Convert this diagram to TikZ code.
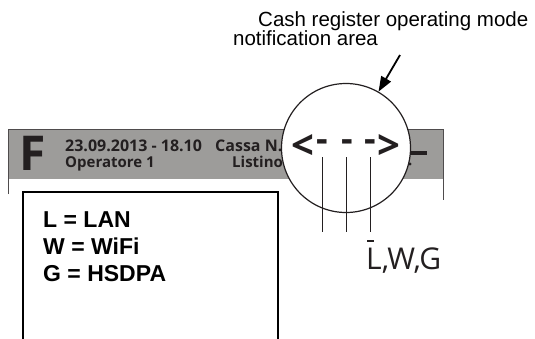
\documentclass[tikz,border=0pt]{standalone}
\usepackage{fontspec}
\setmainfont{Liberation Sans}
\newfontfamily\frut{Open Sans}
\usetikzlibrary{arrows.meta}
\definecolor{bargray}{RGB}{157,156,154}
\definecolor{ink}{RGB}{35,31,32}
\begin{document}
\begin{tikzpicture}[x=1pt,y=-1pt,
  txt/.style={inner sep=0pt,anchor=base west,text=ink},
  hdr/.style={txt,font=\frut\bfseries\fontsize{16}{16}\selectfont},
  hdrb/.style={txt,font=\frut\bfseries\fontsize{15}{15}\selectfont},
  legend/.style={txt,text=black,font=\bfseries\fontsize{23}{23}\selectfont},
  note/.style={txt,text=black,font=\fontsize{20.5}{20.5}\selectfont},
  glyph/.style={inner sep=0pt,anchor=center,text=ink,font=\frut\bfseries\fontsize{40}{40}\selectfont},
  dashglyph/.style={inner sep=0pt,anchor=center,text=ink,font=\frut\bfseries\fontsize{36}{36}\selectfont},
  tick/.style={line width=1pt,draw=ink}]
\useasboundingbox (0,0) rectangle (535,338);
% gray header bar
\fill[bargray] (8,129) rectangle (443,179);
\draw[line width=0.8pt,draw=ink!80] (8,194) -- (8,129) -- (443,129) -- (443,200);
\node[txt,font=\frut\bfseries\fontsize{48}{48}\selectfont] (F) at (19,170) {F};
\node[hdr] (date) at (65,151.5) {23.09.2013 - 18.10};
\node[hdr] (cassa) at (215,151.5) {Cassa N.};
\node[hdrb] (oper) at (65,167.5) {Operatore 1};
\node[hdrb] (list) at (232,167.5) {Listino};
% legend box
\draw[line width=1.5pt] (23,339) -- (23,192) -- (278,192) -- (278,339);
\node[legend] (l1) at (43,227) {L = LAN};
\node[legend] (l2) at (43,254) {W = WiFi};
\node[legend] (l3) at (43,281) {G = HSDPA};
% magnifier circle
\node[circle,draw=ink,fill=white,line width=1.2pt,minimum size=129pt,inner sep=0pt] (mag) at (346,148) {};
\draw[line width=4.5pt,draw=ink] (410,153) -- (427,153);
\fill[ink] (410,164) circle (1.6pt);
\node[glyph] (lt) at (303,147) {<};
\node[glyph] (gt) at (389,147) {>};
\node[dashglyph] (d1) at (322,146) {-};
\node[dashglyph] (d2) at (347,146) {-};
\node[dashglyph] (d3) at (370,146) {-};
\coordinate (v1t) at (322,157); \coordinate (v1b) at (322,232);
\coordinate (v2t) at (346,157); \coordinate (v2b) at (346,232);
\coordinate (v3t) at (370,157); \coordinate (v3b) at (370,232);
\draw[tick] (v1t) -- (v1b);
\draw[tick] (v2t) -- (v2b);
\draw[tick] (v3t) -- (v3b);
\draw[line width=1.5pt,draw=ink] (367,241) -- (374,241);
\node[txt,font=\frut\fontsize{30}{30}\selectfont] (lwg) at (366,269) {L,W,G};
% annotation
\node[note] (n1) at (258,26) {Cash register operating mode};
\node[note] (n2) at (233,45) {notification area};
\coordinate (arrS) at (400,55);
\draw[line width=1.8pt,-{Triangle[length=15pt,width=11pt]}] (arrS) -- (mag.60);
\end{tikzpicture}
\end{document}
